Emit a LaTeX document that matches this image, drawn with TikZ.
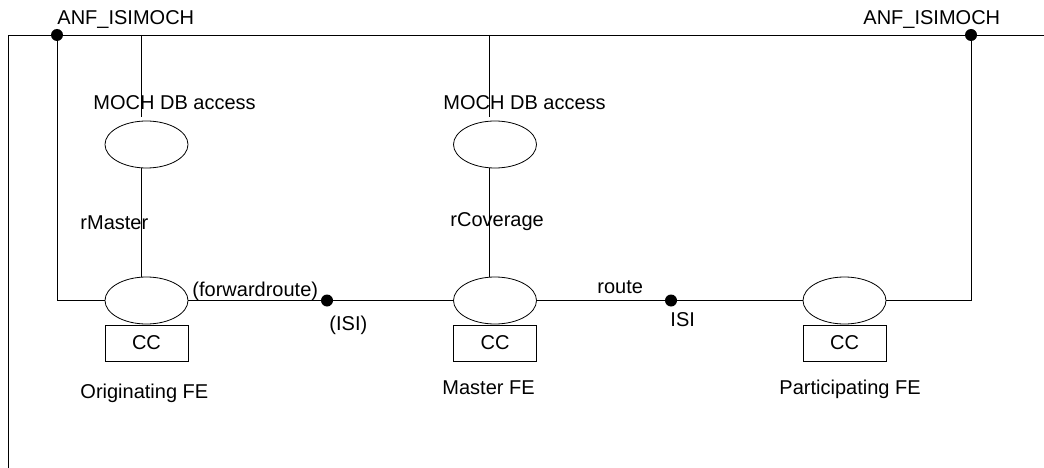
\documentclass[tikz,border=0pt]{standalone}
\usepackage{fontspec}
\setmainfont{Liberation Sans}
\usetikzlibrary{shapes.geometric}
\begin{document}
\begin{tikzpicture}[x=1pt,y=-1pt,line width=0.9pt,
  fe/.style={draw,ellipse,minimum width=83pt,minimum height=47pt,inner sep=0pt,line width=0.8pt},
  ccbox/.style={draw,rectangle,minimum width=83pt,minimum height=36pt,inner sep=0pt,line width=0.8pt},
  lbl/.style={anchor=base west,inner sep=0pt,font=\fontsize{20}{24}\selectfont},
  dot/.style={circle,fill=black,minimum size=12pt,inner sep=0pt}]
\useasboundingbox (0,0) rectangle (1044,468);
% rail
\coordinate (railL) at (8,35);
\coordinate (railR) at (1044,35);
\coordinate (bottomL) at (8,468);
\node[dot] (dotL) at (57,35) {};
\node[dot] (dotR) at (971,35) {};
\coordinate (tapA) at (141,35);
\coordinate (tapB) at (489,35);
\coordinate (endA) at (141,117);
\coordinate (endB) at (489,117);
% nodes
\node[fe] (dbA) at (146.5,144.5) {};
\node[fe] (dbB) at (495,144.5) {};
\node[fe] (ccA) at (146.5,300.5) {};
\node[fe] (ccB) at (495,300.5) {};
\node[fe] (ccC) at (844.5,300.5) {};
\node[ccbox,font=\fontsize{20}{24}\selectfont] (bxA) at (146.5,343) {CC};
\node[ccbox,font=\fontsize{20}{24}\selectfont] (bxB) at (495,343) {CC};
\node[ccbox,font=\fontsize{20}{24}\selectfont] (bxC) at (844.5,343) {CC};
\node[dot] (isi1) at (327,300.5) {};
\node[dot] (isi2) at (671,300.5) {};
\coordinate (cornerL) at (57,300.5);
\coordinate (cornerR) at (971,300.5);
% connectors
\draw (bottomL) -- (railL) -- (railR);
\draw (tapA) -- (endA);
\draw (tapB) -- (endB);
\draw (dotL) -- (cornerL) -- (ccA.west);
\draw (dotR) -- (cornerR) -- (ccC.east);
\draw ([xshift=-5.5pt]dbA.south) -- ([xshift=-5.5pt]ccA.north);
\draw ([xshift=-6pt]dbB.south) -- ([xshift=-6pt]ccB.north);
\draw (ccA.east) -- (isi1) -- (ccB.west);
\draw (ccB.east) -- (isi2) -- (ccC.west);
% labels
\node[lbl] at (57,25) {ANF\_ISIMOCH};
\node[lbl] at (863,25) {ANF\_ISIMOCH};
\node[lbl] at (93,110) {MOCH DB access};
\node[lbl] at (443,110) {MOCH DB access};
\node[lbl] at (80,229) {rMaster};
\node[lbl] at (450,226) {rCoverage};
\node[lbl] at (192,296) {(forwardroute)};
\node[lbl] at (329,330) {(ISI)};
\node[lbl] at (597,293) {route};
\node[lbl] at (670,326) {ISI};
\node[lbl] at (80,398) {Originating FE};
\node[lbl] at (442,394) {Master FE};
\node[lbl] at (779,394) {Participating FE};
\end{tikzpicture}
\end{document}
